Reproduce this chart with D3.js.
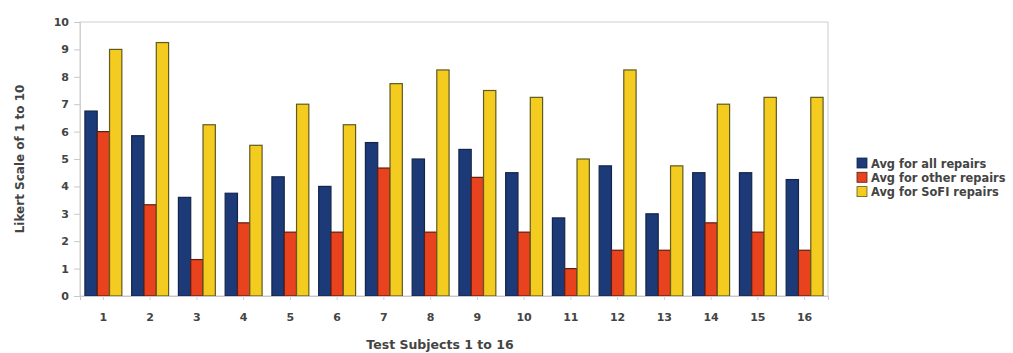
<!DOCTYPE html>
<html>
<head>
<meta charset="utf-8">
<script src="https://cdn.jsdelivr.net/npm/d3@7"></script>
<style>
  html, body { margin: 0; padding: 0; background: #fff; }
  svg { display: block; font-family: "DejaVu Sans", Verdana, sans-serif; }
</style>
</head>
<body>
<svg id="chart" width="1013" height="353"></svg>
<script>
// Test subjects 1..16
const subjects = ["1","2","3","4","5","6","7","8","9","10","11","12","13","14","15","16"];
// Average ratings per subject
const avgAll   = [6.75, 5.85, 3.6, 3.75, 4.35, 4.0, 5.6, 5.0, 5.35, 4.5, 2.85, 4.75, 3.0, 4.5, 4.5, 4.25];
const avgOther = [6, 3.33, 1.33, 2.67, 2.33, 2.33, 4.67, 2.33, 4.33, 2.33, 1, 1.67, 1.67, 2.67, 2.33, 1.67];
const avgSofi  = [9, 9.25, 6.25, 5.5, 7, 6.25, 7.75, 8.25, 7.5, 7.25, 5, 8.25, 4.75, 7, 7.25, 7.25];
const seriesNames = ["Avg for all repairs", "Avg for other repairs", "Avg for SoFI repairs"];
const yTicks = [0,1,2,3,4,5,6,7,8,9,10];

const colors = ["#1c3a78", "#e8421e", "#f4cb1f"];
const strokes = ["#15254a", "#5a1f10", "#5f5a20"];
const seriesValues = [avgAll, avgOther, avgSofi];

const svg = d3.select("#chart");
const margin = { left: 80, right: 185, top: 22, bottom: 57 };
const W = 1013, H = 353;
const x0 = margin.left, x1 = W - margin.right;
const yTop = margin.top, yBot = H - margin.bottom;

const x = d3.scaleBand().domain(subjects).range([x0, x1]).paddingInner(0.21).paddingOuter(0.105);
const xs = d3.scaleBand().domain(d3.range(3)).range([0, x.bandwidth()]);
const y = d3.scaleLinear().domain([0, 10]).range([yBot, yTop]);

// plot frame
svg.append("rect")
  .attr("x", x0).attr("y", yTop)
  .attr("width", x1 - x0).attr("height", yBot - yTop)
  .attr("fill", "#fff").attr("stroke", "#d6d6d6").attr("stroke-width", 1.2);

// bars
const rows = subjects.map((s, i) => ({ s, vals: seriesValues.map(v => v[i]) }));
const g = svg.append("g");
g.selectAll("g.grp").data(rows).join("g")
  .attr("class", "grp")
  .attr("transform", d => `translate(${x(d.s)},0)`)
  .selectAll("rect").data(d => d.vals.map((v, k) => ({ v, k }))).join("rect")
  .attr("x", d => xs(d.k))
  .attr("y", d => y(d.v))
  .attr("width", xs.bandwidth())
  .attr("height", d => y(0) - y(d.v))
  .attr("fill", d => colors[d.k])
  .attr("stroke", d => strokes[d.k])
  .attr("stroke-width", 1.2);

// y axis
const yAxis = d3.axisLeft(y).tickValues(yTicks).tickSize(6).tickPadding(5);
const ya = svg.append("g").attr("transform", `translate(${x0},0)`).call(yAxis);
ya.select(".domain").attr("stroke", "#d0d0d0");
ya.selectAll(".tick line").attr("stroke", "#c8c8c8");
ya.selectAll(".tick text").attr("fill", "#444").attr("font-size", 11).attr("font-weight", "bold")
  .attr("font-family", "DejaVu Sans, sans-serif");

// x axis
const xAxis = d3.axisBottom(x).tickSize(4).tickPadding(13);
const xa = svg.append("g").attr("transform", `translate(0,${yBot})`).call(xAxis);
xa.select(".domain").attr("stroke", "#c8c8c8");
xa.selectAll(".tick line").attr("stroke", "#d0d0d0");
xa.selectAll(".tick text").attr("fill", "#444").attr("font-size", 11).attr("font-weight", "bold")
  .attr("font-family", "DejaVu Sans, sans-serif");

// axis titles
svg.append("text")
  .attr("transform", `translate(24,${159}) rotate(-90)`)
  .attr("text-anchor", "middle")
  .attr("font-size", 12).attr("font-weight", "bold").attr("fill", "#444")
  .text("Likert Scale of 1 to 10");
svg.append("text")
  .attr("x", 440).attr("y", 349)
  .attr("text-anchor", "middle")
  .attr("font-size", 12.5).attr("font-weight", "bold").attr("fill", "#444")
  .text("Test Subjects 1 to 16");

// legend
const leg = svg.append("g").attr("transform", "translate(857,158)");
const li = leg.selectAll("g").data(seriesNames).join("g")
  .attr("transform", (d, i) => `translate(0,${i * 14.3})`);
li.append("rect").attr("width", 10).attr("height", 10)
  .attr("fill", (d, i) => colors[i]).attr("stroke", (d, i) => strokes[i]).attr("stroke-width", 0.8);
li.append("text").attr("x", 14).attr("y", 9.5)
  .attr("font-size", 11.4).attr("font-weight", "bold").attr("fill", "#444")
  .text(d => d);
</script>
</body>
</html>
